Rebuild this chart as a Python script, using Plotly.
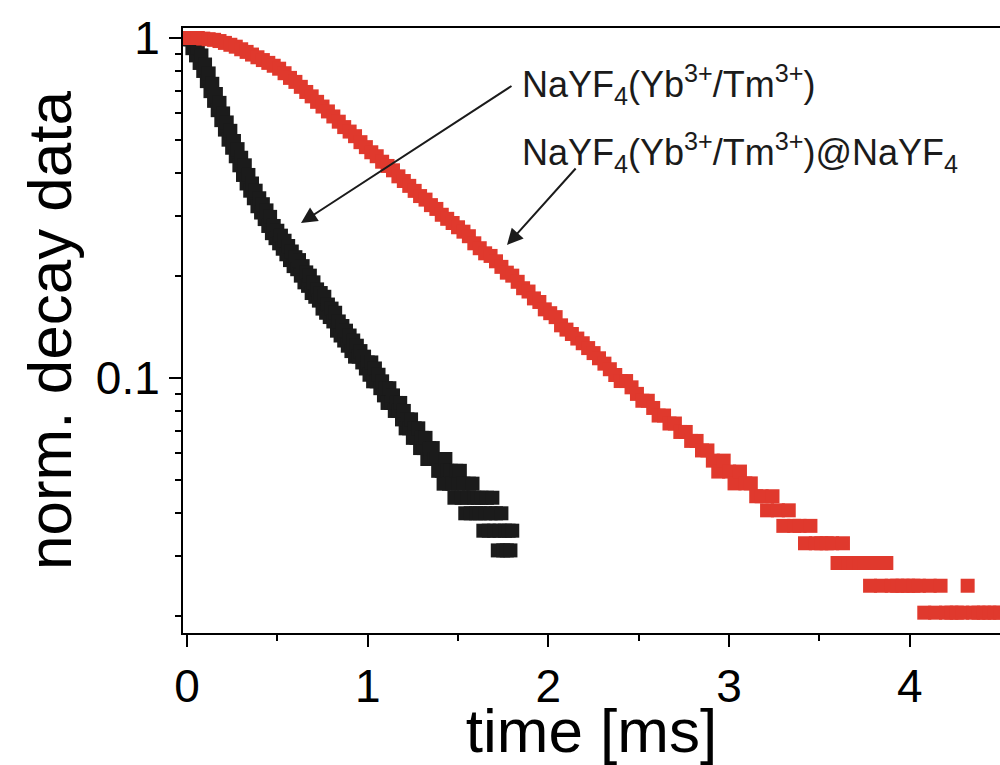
import numpy as np
import plotly.graph_objects as go

# ---- data ----
# core-only particles NaYF4(Yb/Tm): photon counts, sampled every 0.01 ms (scatter included)
t_black = np.round(np.arange(0, 1.8001, 0.01), 2)
counts_black = [225, 223, 223, 210, 220, 200, 211, 190, 200, 180,
                188, 168, 177, 157, 165, 147, 154, 138, 145, 129,
                135, 121, 127, 113, 120, 107, 112, 101, 106, 95,
                100, 89, 95, 84, 89, 80, 84, 76, 80, 72,
                76, 69, 73, 66, 70, 63, 67, 60, 63, 58,
                61, 56, 59, 54, 57, 52, 55, 50, 53, 48,
                51, 47, 50, 45, 48, 43, 46, 42, 45, 40,
                43, 39, 41, 38, 40, 36, 39, 35, 37, 34,
                36, 33, 35, 31, 33, 30, 32, 29, 31, 28,
                30, 27, 29, 26, 28, 26, 27, 25, 26, 24,
                25, 23, 25, 22, 24, 22, 23, 21, 22, 20,
                21, 19, 21, 19, 20, 18, 19, 18, 19, 17,
                18, 16, 17, 16, 17, 15, 16, 15, 16, 14,
                15, 14, 15, 13, 14, 13, 14, 13, 13, 12,
                13, 12, 11, 13, 12, 11, 12, 11, 10, 12,
                11, 12, 10, 11, 9, 10, 11, 9, 11, 10,
                9, 10, 9, 10, 8, 9, 10, 8, 9, 10,
                8, 9, 7, 8, 9, 7, 8, 7, 8, 7,
                8]

# core-shell particles NaYF4(Yb/Tm)@NaYF4: photon counts, sampled every 0.03 ms
t_red = np.round(np.arange(0, 4.501, 0.03), 2)
counts_red = [245, 245, 245, 244, 243, 242, 240, 237, 234, 231,
              227, 223, 219, 215, 211, 207, 203, 199, 193, 187,
              182, 176, 170, 165, 159, 154, 149, 144, 139, 134,
              130, 126, 121, 117, 113, 110, 106, 103, 100, 96,
              93, 90, 87, 84, 82, 79, 77, 74, 72, 70,
              68, 66, 64, 61, 59, 57, 56, 54, 52, 50,
              49, 47, 45, 44, 42, 41, 39, 38, 37, 35,
              34, 33, 32, 31, 30, 29, 28, 27, 26, 25,
              24, 24, 23, 22, 21, 21, 20, 19, 19, 18,
              18, 17, 17, 16, 16, 15, 15, 14, 13, 14,
              13, 12, 13, 12, 12, 11, 11, 10, 11, 10,
              9, 10, 9, 9, 8, 9, 8, 8, 8, 8,
              7, 8, 7, 7, 7, 7, 6, 7, 6, 7,
              6, 6, 6, 6, 6, 6, 5, 6, 5, 6,
              5, 5, 5, 5, 6, 5, 5, 5, 5, 5,
              5]

y_black = np.array(counts_black) / counts_black[0]
y_red = np.array(counts_red) / counts_red[0]

x_major = [0, 1, 2, 3, 4]
x_minor = [0.5, 1.5, 2.5, 3.5]
y_major = [0.1, 1]
y_major_text = ["0.1", "1"]
y_minor = [0.02, 0.03, 0.04, 0.05, 0.06, 0.07, 0.08, 0.09,
           0.2, 0.3, 0.4, 0.5, 0.6, 0.7, 0.8, 0.9]

label_core = "NaYF<sub>4</sub>(Yb<sup>3+</sup>/Tm<sup>3+</sup>)"
label_shell = "NaYF<sub>4</sub>(Yb<sup>3+</sup>/Tm<sup>3+</sup>)@NaYF<sub>4</sub>"

BLACK = "#1b1b1b"
RED = "#e0392d"
FONT = "Liberation Sans, Arial, Helvetica, sans-serif"

fig = go.Figure()
fig.add_trace(go.Scatter(x=t_black, y=y_black, mode="markers", name=label_core,
                         marker=dict(symbol="square", size=14, color=BLACK,
                                     line=dict(width=0))))
fig.add_trace(go.Scatter(x=t_red, y=y_red, mode="markers", name=label_shell,
                         marker=dict(symbol="square", size=14, color=RED,
                                     line=dict(width=0))))

fig.update_layout(
    width=1000, height=765,
    margin=dict(l=183, r=0, t=28, b=132),
    paper_bgcolor="white", plot_bgcolor="white",
    showlegend=False,
    font=dict(family=FONT, color="black"),
)

fig.update_xaxes(
    range=[-0.022, 4.499],
    showline=True, linecolor="black", linewidth=2, mirror=True,
    showgrid=False, zeroline=False,
    tickmode="array", tickvals=x_major, ticktext=[str(v) for v in x_major],
    ticks="outside", ticklen=12, tickwidth=2, tickcolor="black",
    tickfont=dict(size=46, family=FONT, color="black"),
    minor=dict(tickvals=x_minor, ticks="outside", ticklen=6, tickwidth=2,
               tickcolor="black", showgrid=False),
    title=dict(text="time [ms]", font=dict(size=62, family=FONT, color="black"),
               standoff=6),
)

fig.update_yaxes(
    type="log", range=[-1.75, 0.0294],
    showline=True, linecolor="black", linewidth=2, mirror=False,
    showgrid=False, zeroline=False,
    tickmode="array", tickvals=y_major, ticktext=y_major_text,
    ticks="outside", ticklen=12, tickwidth=2, tickcolor="black",
    tickfont=dict(size=46, family=FONT, color="black"),
    minor=dict(tickvals=y_minor, ticks="outside", ticklen=6, tickwidth=2,
               tickcolor="black", showgrid=False),
    title=dict(text="norm. decay data", font=dict(size=62, family=FONT, color="black"),
               standoff=4),
)

# labels with arrows
fig.add_annotation(xref="paper", yref="paper", x=0.413, y=0.907,
                   xanchor="left", yanchor="middle", showarrow=False,
                   text=label_core, font=dict(size=36, family=FONT, color="#1b1b1b"))
fig.add_annotation(xref="paper", yref="paper", x=0.413, y=0.795,
                   xanchor="left", yanchor="middle", showarrow=False,
                   text=label_shell, font=dict(size=36, family=FONT, color="#1b1b1b"))

fig.add_annotation(xref="paper", yref="paper", x=(301 - 183) / 817, y=(633 - 223) / 605,
                   text="", showarrow=True, arrowhead=2, arrowsize=1.6, arrowwidth=2,
                   arrowcolor="#1b1b1b", axref="pixel", ayref="pixel",
                   ax=212, ay=-138, standoff=0)
fig.add_annotation(xref="paper", yref="paper", x=(507 - 183) / 817, y=(633 - 245) / 605,
                   text="", showarrow=True, arrowhead=2, arrowsize=1.6, arrowwidth=2,
                   arrowcolor="#1b1b1b", axref="pixel", ayref="pixel",
                   ax=70, ay=-78, standoff=0)

fig.write_html("out.html")
